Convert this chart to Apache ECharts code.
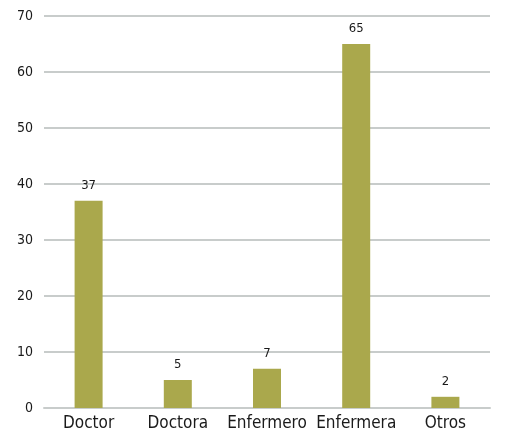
<!DOCTYPE html>
<html>
<head>
<meta charset="utf-8">
<script src="https://cdn.jsdelivr.net/npm/echarts@6/dist/echarts.min.js"></script>
<style>
  html, body { margin: 0; padding: 0; background: #fff; }
  #chart { width: 505px; height: 438px; }
</style>
</head>
<body>
<div id="chart"></div>
<script>
// Staff counts by role
const categories = ['Doctor', 'Doctora', 'Enfermero', 'Enfermera', 'Otros'];
const values = [37, 5, 7, 65, 2];
const yTicks = { min: 0, max: 70, interval: 10 };

const FONT = '"DejaVu Sans Condensed", "Liberation Sans Narrow", sans-serif';

const chart = echarts.init(document.getElementById('chart'), null, { renderer: 'canvas' });
chart.setOption({
  animation: false,
  backgroundColor: '#ffffff',
  grid: { left: 44, right: 15, top: 16, bottom: 30, containLabel: false },
  xAxis: {
    type: 'category',
    data: categories,
    axisLine: { show: true, lineStyle: { color: '#c8cccb', width: 2 } },
    axisTick: { show: false },
    axisLabel: { color: '#1a1a1a', fontFamily: FONT, fontSize: 17, margin: 7, interval: 0 }
  },
  yAxis: {
    type: 'value',
    min: yTicks.min,
    max: yTicks.max,
    interval: yTicks.interval,
    axisLine: { show: false },
    axisTick: { show: false },
    splitLine: { lineStyle: { color: '#c8cccb', width: 2 } },
    axisLabel: { color: '#1a1a1a', fontFamily: FONT, fontSize: 14, margin: 11 }
  },
  series: [{
    type: 'bar',
    data: values,
    barWidth: 28,
    itemStyle: { color: '#aaa84c' },
    label: {
      show: true,
      position: 'top',
      distance: 9,
      color: '#1a1a1a',
      fontFamily: FONT,
      fontSize: 13
    }
  }]
});
</script>
</body>
</html>
